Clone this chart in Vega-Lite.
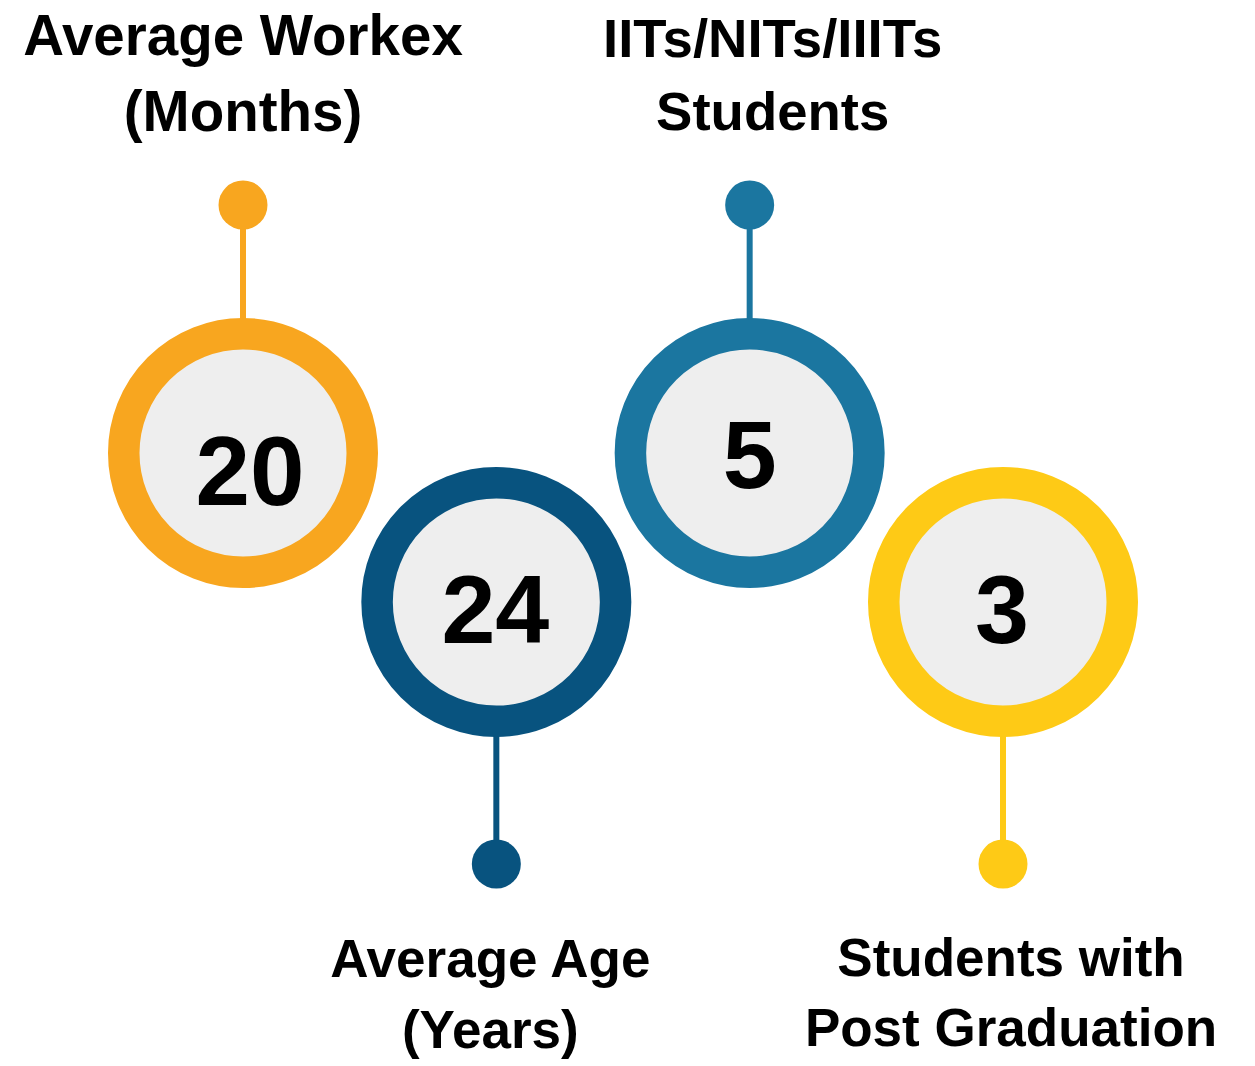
{
  "$schema": "https://vega.github.io/schema/vega-lite/v6.json",
  "width": 1255,
  "height": 1066,
  "autosize": {"type": "fit", "contains": "padding"},
  "padding": 0,
  "background": "#ffffff",
  "config": {"view": {"stroke": null}, "text": {"font": "Liberation Sans", "fontWeight": "bold"}},
  "data": {
    "values": [
      {"rank": 1, "metric": "Average Workex (Months)", "label": "Average Workex\n(Months)", "value": 20},
      {"rank": 2, "metric": "Average Age (Years)", "label": "Average Age\n(Years)", "value": 24},
      {"rank": 3, "metric": "IITs/NITs/IIITs Students", "label": "IITs/NITs/IIITs\nStudents", "value": 5},
      {"rank": 4, "metric": "Students with Post Graduation", "label": "Students with\nPost Graduation", "value": 3}
    ]
  },
  "encoding": {
    "x": {"field": "rank", "type": "ordinal", "scale": {"type": "point", "range": [243, 1003], "padding": 0}, "axis": null}
  },
  "layer": [
    {
      "transform": [{"filter": "datum.rank % 2 == 1"}],
      "mark": {"type": "rule", "strokeWidth": 6, "y2Offset": -248},
      "encoding": {
        "y": {"datum": "upper", "type": "nominal", "scale": {"type": "point", "domain": ["upper", "lower"], "range": [453, 602], "padding": 0}, "axis": null},
        "y2": {"datum": "upper"},
        "color": {"field": "metric", "type": "nominal", "scale": {"domain": ["Average Workex (Months)", "Average Age (Years)", "IITs/NITs/IIITs Students", "Students with Post Graduation"], "range": ["#F8A61F", "#08537F", "#1B76A0", "#FECA16"]}, "legend": null}
      }
    },
    {
      "transform": [{"filter": "datum.rank % 2 == 0"}],
      "mark": {"type": "rule", "strokeWidth": 6, "y2Offset": 262},
      "encoding": {
        "y": {"datum": "lower", "type": "nominal"},
        "y2": {"datum": "lower"},
        "color": {"field": "metric", "type": "nominal", "legend": null}
      }
    },
    {
      "transform": [{"filter": "datum.rank % 2 == 1"}],
      "mark": {"type": "circle", "size": 2401, "opacity": 1, "yOffset": -248},
      "encoding": {
        "y": {"datum": "upper", "type": "nominal"},
        "color": {"field": "metric", "type": "nominal", "legend": null}
      }
    },
    {
      "transform": [{"filter": "datum.rank % 2 == 0"}],
      "mark": {"type": "circle", "size": 2401, "opacity": 1, "yOffset": 262},
      "encoding": {
        "y": {"datum": "lower", "type": "nominal"},
        "color": {"field": "metric", "type": "nominal", "legend": null}
      }
    },
    {
      "transform": [{"filter": "datum.rank % 2 == 1"}],
      "mark": {"type": "circle", "size": 56882, "opacity": 1, "fill": "#EEEEEE", "fillOpacity": 1, "strokeWidth": 31.5, "strokeOpacity": 1},
      "encoding": {
        "y": {"datum": "upper", "type": "nominal"},
        "stroke": {"field": "metric", "type": "nominal", "scale": {"domain": ["Average Workex (Months)", "Average Age (Years)", "IITs/NITs/IIITs Students", "Students with Post Graduation"], "range": ["#F8A61F", "#08537F", "#1B76A0", "#FECA16"]}, "legend": null}
      }
    },
    {
      "transform": [{"filter": "datum.rank % 2 == 0"}],
      "mark": {"type": "circle", "size": 56882, "opacity": 1, "fill": "#EEEEEE", "fillOpacity": 1, "strokeWidth": 31.5, "strokeOpacity": 1},
      "encoding": {
        "y": {"datum": "lower", "type": "nominal"},
        "stroke": {"field": "metric", "type": "nominal", "legend": null}
      }
    },
    {
      "transform": [{"filter": "datum.rank == 1"}],
      "mark": {"type": "text", "fontSize": 98, "baseline": "alphabetic", "align": "center", "dx": 7, "dy": 52, "color": "#000000"},
      "encoding": {"y": {"datum": "upper", "type": "nominal"}, "text": {"field": "value"}}
    },
    {
      "transform": [{"filter": "datum.rank == 3"}],
      "mark": {"type": "text", "fontSize": 97, "baseline": "alphabetic", "align": "center", "dx": 0, "dy": 35, "color": "#000000"},
      "encoding": {"y": {"datum": "upper", "type": "nominal"}, "text": {"field": "value"}}
    },
    {
      "transform": [{"filter": "datum.rank % 2 == 0"}],
      "mark": {"type": "text", "fontSize": 97, "baseline": "alphabetic", "align": "center", "dx": -1, "dy": 41, "color": "#000000"},
      "encoding": {"y": {"datum": "lower", "type": "nominal"}, "text": {"field": "value"}}
    },
    {
      "transform": [{"filter": "datum.rank == 1"}],
      "mark": {"type": "text", "fontSize": 56.5, "baseline": "alphabetic", "align": "center", "lineBreak": "\n", "lineHeight": 76, "dx": 0, "dy": -398, "color": "#000000"},
      "encoding": {"y": {"datum": "upper", "type": "nominal"}, "text": {"field": "label"}}
    },
    {
      "transform": [{"filter": "datum.rank == 3"}],
      "mark": {"type": "text", "fontSize": 54.5, "baseline": "alphabetic", "align": "center", "lineBreak": "\n", "lineHeight": 73, "dx": 23, "dy": -396, "color": "#000000"},
      "encoding": {"y": {"datum": "upper", "type": "nominal"}, "text": {"field": "label"}}
    },
    {
      "transform": [{"filter": "datum.rank == 2"}],
      "mark": {"type": "text", "fontSize": 53, "baseline": "alphabetic", "align": "center", "lineBreak": "\n", "lineHeight": 71, "dx": -6, "dy": 375, "color": "#000000"},
      "encoding": {"y": {"datum": "lower", "type": "nominal"}, "text": {"field": "label"}}
    },
    {
      "transform": [{"filter": "datum.rank == 4"}],
      "mark": {"type": "text", "fontSize": 53, "baseline": "alphabetic", "align": "center", "lineBreak": "\n", "lineHeight": 70, "dx": 8, "dy": 374, "color": "#000000"},
      "encoding": {"y": {"datum": "lower", "type": "nominal"}, "text": {"field": "label"}}
    }
  ]
}
